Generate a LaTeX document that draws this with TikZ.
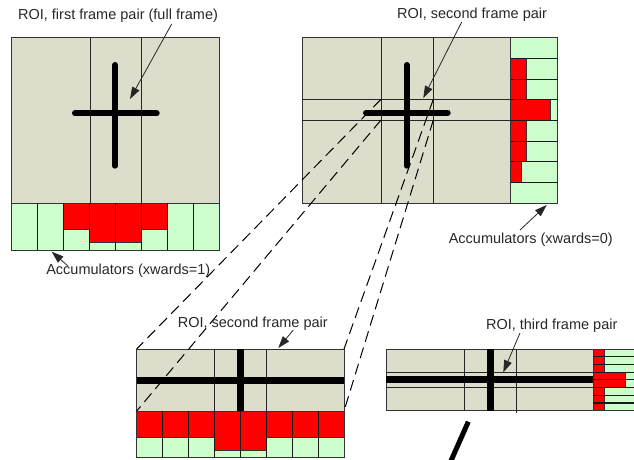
\documentclass[tikz,border=0pt]{standalone}
\usepackage{fontspec}
\setmainfont{Liberation Sans}
\usetikzlibrary{arrows.meta}
\definecolor{roigrey}{RGB}{221,221,204}
\definecolor{accgreen}{RGB}{204,255,204}
\definecolor{accred}{RGB}{255,0,0}
\definecolor{txt}{RGB}{40,40,40}
\tikzset{
  panel/.style={fill=roigrey,draw=black!80,line width=0.9pt},
  gridline/.style={draw=black!85,line width=0.9pt},
  accline/.style={draw=black!90,line width=1.1pt},
  gcell/.style={fill=accgreen,draw=black!80,line width=0.9pt},
  rcell/.style={fill=accred,draw=black!80,line width=0.9pt},
  crossbar/.style={line width=6pt,line cap=round},
  flatbar/.style={line width=7pt},
  lbl/.style={font=\fontsize{14.5}{16}\selectfont,text=txt,inner sep=0pt},
  pointer/.style={draw=black!85,line width=0.8pt,-{Triangle[length=12pt,width=8pt]}},
  dashlink/.style={draw=black,line width=1pt,dash pattern=on 11pt off 6pt},
}
\begin{document}
\begin{tikzpicture}[x=1pt,y=-1pt]
\useasboundingbox (0,0) rectangle (634,459);
\clip (0,0) rectangle (634,459);
\fill[white] (0,0) rectangle (634,459);

% ---------- Top-left panel ----------
\draw[panel] (11.7,37.7) rectangle (219.3,203.3);
\draw[gridline] (90,37.7) -- (90,203.3);
\draw[gridline] (141.7,37.7) -- (141.7,203.3);
\foreach \i/\h in {0/0,1/0,2/229.3,3/242.3,4/242.3,5/229.3,6/0,7/0}{
  \pgfmathsetmacro{\xa}{11.7+\i*25.95}
  \pgfmathsetmacro{\xb}{11.7+(\i+1)*25.95}
  \draw[gcell] (\xa,203.3) rectangle (\xb,250);
  \ifdim\h pt>0pt \draw[rcell] (\xa,203.3) rectangle (\xb,\h); \fi
}
\foreach \i in {1,...,7}{
  \pgfmathsetmacro{\xa}{11.7+\i*25.95}
  \draw[accline] (\xa,203.3) -- (\xa,250);
}
\draw[crossbar] (115,65) -- (115,165.7);
\draw[crossbar] (75,113.3) -- (156.7,113.3);

% ---------- Top-right panel ----------
\draw[panel] (302.7,37.7) rectangle (510.7,203.3);
\draw[gridline] (381,37.7) -- (381,203.3);
\draw[gridline] (433.3,37.7) -- (433.3,203.3);
\draw[gridline] (302.7,99.3) -- (510.7,99.3);
\draw[gridline] (302.7,120) -- (510.7,120);
\foreach \i/\w in {0/0,1/16,2/16,3/39.3,4/16,5/16,6/11,7/0}{
  \pgfmathsetmacro{\ya}{37.7+\i*20.7}
  \pgfmathsetmacro{\yb}{37.7+(\i+1)*20.7}
  \draw[gcell] (510.7,\ya) rectangle (557.7,\yb);
  \ifdim\w pt>0pt \draw[rcell] (510.7,\ya) rectangle (510.7+\w,\yb); \fi
}
\foreach \i in {1,...,7}{
  \pgfmathsetmacro{\ya}{37.7+\i*20.7}
  \draw[accline] (510.7,\ya) -- (557.7,\ya);
}
\draw[crossbar] (406.7,65) -- (406.7,165.7);
\draw[crossbar] (366,112.7) -- (447.7,112.7);

% ---------- Bottom-left panel ----------
\draw[panel] (136.7,349) rectangle (344,411);
\draw[gridline] (214.3,349) -- (214.3,411);
\draw[gridline] (266.7,349) -- (266.7,411);
\draw[flatbar] (136.7,380.3) -- (344,380.3);
\draw[flatbar] (240.7,349) -- (240.7,411);
\foreach \i/\h in {0/437.7,1/437.7,2/437.7,3/450,4/450,5/437.7,6/437.7,7/437.7}{
  \pgfmathsetmacro{\xa}{136.7+\i*25.91}
  \pgfmathsetmacro{\xb}{136.7+(\i+1)*25.91}
  \draw[gcell] (\xa,411) rectangle (\xb,457.3);
  \draw[rcell] (\xa,411) rectangle (\xb,\h);
}
\foreach \i in {1,...,7}{
  \pgfmathsetmacro{\xa}{136.7+\i*25.91}
  \draw[accline] (\xa,411) -- (\xa,457.3);
}

% ---------- Bottom-right panel ----------
\draw[panel] (386,349) rectangle (593.3,410.7);
\draw[gridline] (464,349) -- (464,410.7);
\draw[gridline] (516.7,349) -- (516.7,413);
\draw[gridline] (386,372.3) -- (593.3,372.3);
\draw[gridline] (386,387.7) -- (593.3,387.7);
\draw[flatbar] (386,379.7) -- (593.3,379.7);
\draw[flatbar] (490,349) -- (490,410.7);
\foreach \i/\w in {0/11,1/11,2/11,3/31.7,4/31.7,5/11,6/11,7/11}{
  \pgfmathsetmacro{\ya}{349+\i*7.71}
  \pgfmathsetmacro{\yb}{349+(\i+1)*7.71}
  \draw[gcell] (593.3,\ya) rectangle (640,\yb);
  \draw[rcell] (593.3,\ya) rectangle (593.3+\w,\yb);
}
\foreach \i in {1,...,7}{
  \pgfmathsetmacro{\ya}{349+\i*7.71}
  \draw[accline] (593.3,\ya) -- (640,\ya);
}
\draw[line width=5pt] (468.3,421.7) -- (450,463);

% ---------- Dashed projection lines ----------
\coordinate (r1) at (381,99.3);
\coordinate (r2) at (381,120);
\coordinate (r3) at (433.3,99.3);
\coordinate (r4) at (433.3,120);
\coordinate (b1) at (136.7,349);
\coordinate (b2) at (136.7,411);
\coordinate (b3) at (344,349);
\coordinate (b4) at (344,411);
\draw[dashlink] (r1) -- (b1);
\draw[dashlink] (r2) -- (b2);
\draw[dashlink] (r3) -- (b3);
\draw[dashlink] (r4) -- (b4);

% ---------- Labels and pointers ----------
\node[lbl] (t1) at (118,16) {ROI, first frame pair (full frame)};
\node[lbl] (t2) at (472,15) {ROI, second frame pair};
\node[lbl] (t3) at (128.3,271) {Accumulators (xwards=1)};
\node[lbl] (t4) at (530.8,240) {Accumulators (xwards=0)};
\node[lbl] (t5) at (252.8,324) {ROI, second frame pair};
\node[lbl] (t6) at (551.7,326) {ROI, third frame pair};

\coordinate (s1) at (171.7,24);   \coordinate (e1) at (130,99);
\coordinate (s2) at (461.7,22);   \coordinate (e2) at (423.3,98);
\coordinate (s3) at (68,266);     \coordinate (e3) at (51.7,251.7);
\coordinate (s4) at (520,230);    \coordinate (e4) at (546.7,205);
\coordinate (s5) at (293.3,330);  \coordinate (e5) at (278.3,348);
\coordinate (s6) at (520,333);    \coordinate (e6) at (503.3,372.3);
\draw[pointer] (s1) -- (e1);
\draw[pointer] (s2) -- (e2);
\draw[pointer] (s3) -- (e3);
\draw[pointer] (s4) -- (e4);
\draw[pointer] (s5) -- (e5);
\draw[pointer] (s6) -- (e6);
\end{tikzpicture}
\end{document}
